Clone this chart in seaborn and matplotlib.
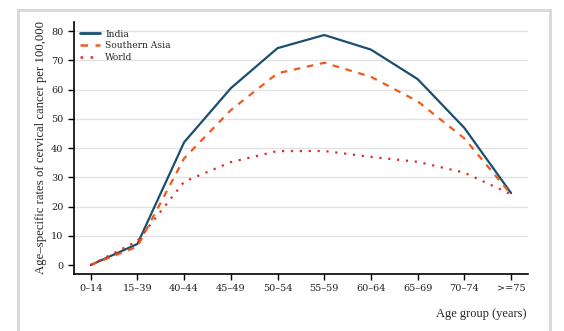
import matplotlib
matplotlib.use("Agg")
import matplotlib.pyplot as plt
import seaborn as sns
import pandas as pd
from matplotlib.patches import Rectangle
from matplotlib.lines import Line2D

age_groups = ["0–14", "15–39", "40–44", "45–49", "50–54", "55–59",
              "60–64", "65–69", "70–74", ">=75"]
india = [0, 7.2, 42, 60.5, 74.2, 78.7, 73.7, 63.6, 46.9, 24.6]
southern_asia = [0, 6.3, 36.5, 53, 65.6, 69.2, 64.4, 56, 43.3, 24.2]
world = [0, 8.2, 28.5, 35.2, 39, 39, 37, 35.3, 31.6, 24.2]

series_names = ["India", "Southern Asia", "World"]
colors = {"India": "#1b4f6e", "Southern Asia": "#f05a1e", "World": "#d9302c"}

rows = []
for name, vals in zip(series_names, [india, southern_asia, world]):
    for i, (g, v) in enumerate(zip(age_groups, vals)):
        rows.append({"idx": i, "group": g, "rate": v, "series": name})
df = pd.DataFrame(rows)

sns.set_style("white")
plt.rcParams["font.family"] = ["DejaVu Serif"]

fig = plt.figure(figsize=(5.64, 3.31), dpi=100)
fig.patches.append(Rectangle((18 / 564, -0.05), (550 - 18) / 564, 1 - 10 / 331 + 0.05,
                             transform=fig.transFigure, fill=False,
                             edgecolor="#d8d8d8", lw=2))
ax = fig.add_axes([0.131, 0.172, 0.936 - 0.131, 0.934 - 0.172])

for yv in range(10, 90, 10):
    ax.axhline(yv, color="#e3e3e3", lw=1, zorder=0)

sns.lineplot(data=df, x="idx", y="rate", hue="series", style="series",
             palette=colors,
             dashes={"India": "", "Southern Asia": (3, 3), "World": (1, 3)},
             linewidth=1.6, ax=ax, legend=False)

handles = [Line2D([], [], color=colors["India"], lw=2),
           Line2D([], [], color=colors["Southern Asia"], lw=1.8, dashes=(3, 3)),
           Line2D([], [], color=colors["World"], lw=1.8, dashes=(1, 3))]
ax.legend(handles, series_names, loc="upper left", bbox_to_anchor=(0.0, 0.995),
          frameon=False, fontsize=6.6, handlelength=2.1, handletextpad=0.6,
          labelspacing=0.3, borderaxespad=0.3)

ax.set_xlim(-0.36, 9.36)
ax.set_ylim(-3.1, 83.2)
ax.set_xticks(range(len(age_groups)))
ax.set_xticklabels(age_groups)
ax.set_yticks(range(0, 90, 10))
for s in ["top", "right"]:
    ax.spines[s].set_visible(False)
for s in ["left", "bottom"]:
    ax.spines[s].set_color("black")
    ax.spines[s].set_linewidth(1.2)
ax.tick_params(axis="both", direction="out", length=4, width=1, colors="black",
               labelsize=7, bottom=True, left=True)
for lab in ax.get_xticklabels() + ax.get_yticklabels():
    lab.set_color("#222222")
ax.set_xlabel("")
ax.set_ylabel("")
fig.text(0.072, 0.555, "Age–specific rates of cervical cancer per 100,000",
         rotation=90, ha="center", va="center", fontsize=9.2,
         family=["Liberation Serif"])
fig.text(0.933, 0.05, "Age group (years)", ha="right", va="center", fontsize=9,
         family=["Liberation Serif"])

fig.savefig("out.png", dpi=100)
